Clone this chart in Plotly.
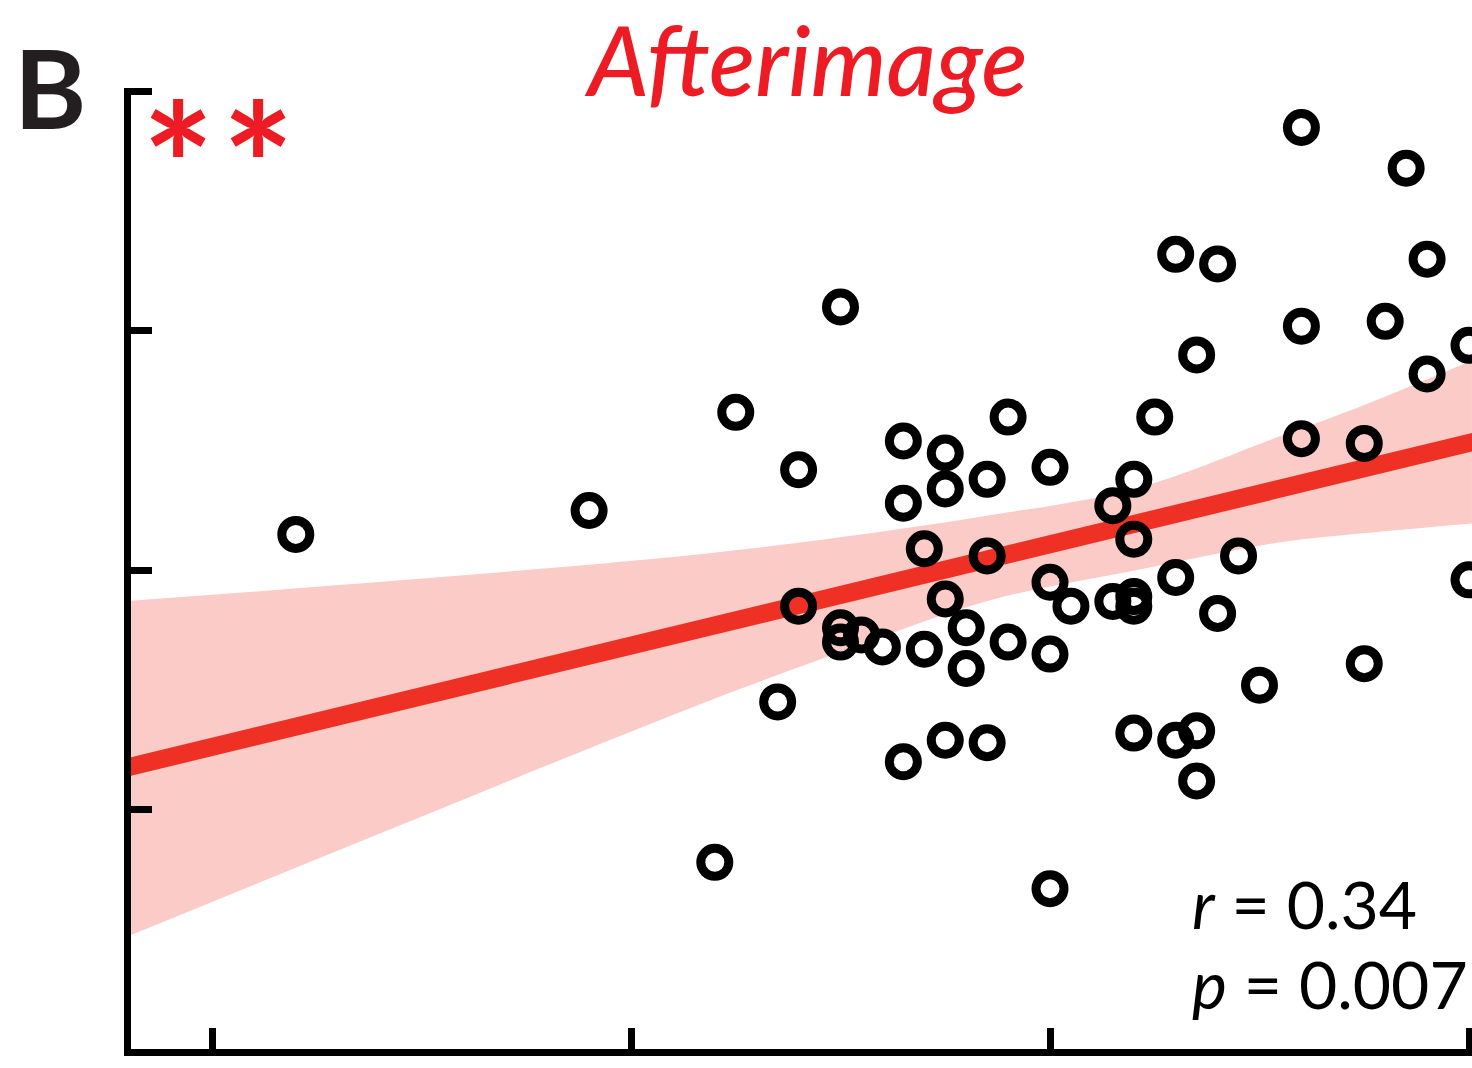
import plotly.graph_objects as go

# ---- data (arbitrary units: x ticks at 0..3, y ticks at 1..4) ----
x_vals = [0.20, 0.90, 1.20, 1.25, 1.35, 1.40, 1.40, 1.50, 1.50, 1.50,
          1.55, 1.60, 1.65, 1.65, 1.65, 1.70, 1.70, 1.75, 1.75, 1.75,
          1.75, 1.80, 1.80, 1.85, 1.85, 1.85, 1.90, 1.90, 2.00, 2.00,
          2.00, 2.00, 2.05, 2.15, 2.15, 2.20, 2.20, 2.20, 2.20, 2.20,
          2.25, 2.30, 2.30, 2.30, 2.35, 2.35, 2.35, 2.40, 2.40, 2.45,
          2.50, 2.60, 2.60, 2.60, 2.75, 2.75, 2.80, 2.85, 2.90, 2.90,
          3.00, 3.00]
y_vals = [2.15, 2.25, 0.78, 2.66, 1.45, 2.42, 1.85, 3.10, 1.76, 1.70,
          1.73, 1.68, 2.54, 2.28, 1.20, 2.09, 1.67, 2.49, 2.34, 1.88,
          1.29, 1.76, 1.59, 2.38, 2.06, 1.28, 2.64, 1.70, 2.43, 1.95,
          1.65, 0.67, 1.85, 2.27, 1.87, 2.38, 2.13, 1.89, 1.85, 1.32,
          2.64, 3.32, 1.97, 1.29, 2.90, 1.33, 1.12, 3.28, 1.82, 2.06,
          1.52, 3.85, 3.02, 2.55, 2.53, 1.61, 3.04, 3.68, 3.30, 2.82,
          2.94, 1.96]

# regression line
fit_x = [-0.215, 3.05]
fit_y = [1.171, 2.553]

# confidence band
ci_x = [-0.193, 0.449, 1.141, 1.499, 1.857, 2.205, 2.549, 2.747, 3.007]
ci_upper = [1.873, 1.958, 2.063, 2.138, 2.230, 2.342, 2.560, 2.689, 2.877]
ci_lower = [0.476, 0.935, 1.424, 1.658, 1.875, 2.000, 2.117, 2.155, 2.196]

x_ticks = [0, 1, 2, 3]
y_ticks = [1, 2, 3, 4]

title_text = "<i>Afterimage</i>"
panel_label = "B"
star_text = "*"
r_text = "<i>r</i> = 0.34"
p_text = "<i>p</i> = 0.007"

RED = "#ED1C24"
LINE_RED = "#EE3124"
BAND = "#FBCBC7"

W, H = 1472, 1068
ML, MR, MT, MB = 131, 0, 88, 19
PW, PH = W - ML - MR, H - MT - MB


def px(x):
    return (x - ML) / PW


def py(y):
    return (H - MB - y) / PH


fig = go.Figure()
fig.add_trace(go.Scatter(x=ci_x, y=ci_lower, mode="lines", line=dict(width=0, color=BAND, shape="spline"),
                         hoverinfo="skip", showlegend=False))
fig.add_trace(go.Scatter(x=ci_x, y=ci_upper, mode="lines", line=dict(width=0, color=BAND, shape="spline"),
                         fill="tonexty", fillcolor=BAND, hoverinfo="skip", showlegend=False))
fig.add_trace(go.Scatter(x=fit_x, y=fit_y, mode="lines", line=dict(width=18, color=LINE_RED),
                         hoverinfo="skip", showlegend=False))
fig.add_trace(go.Scatter(x=x_vals, y=y_vals, mode="markers",
                         marker=dict(symbol="circle-open", size=28, color="black",
                                     line=dict(width=9, color="black")),
                         showlegend=False))

axis_common = dict(showline=True, linewidth=7, linecolor="black", ticks="inside", ticklen=21,
                   tickwidth=7, tickcolor="black", showticklabels=False, showgrid=False,
                   zeroline=False, fixedrange=True)
fig.update_xaxes(range=[(131 - 212) / 419, (1472 - 212) / 419], tickvals=x_ticks, **axis_common)
fig.update_yaxes(range=[0, 4.015], tickvals=y_ticks, **axis_common)

annotations = [
    dict(text=panel_label, x=px(50), y=py(86.5), font=dict(family="Lato", size=110, color="#231F20", weight="bold")),
    dict(text=title_text, x=px(806), y=py(58.6), font=dict(family="Lato", size=96, color=RED, weight=500)),
    dict(text=star_text, x=px(178), y=py(163), font=dict(family="Lato", size=170, color=RED, weight="bold")),
    dict(text=star_text, x=px(258), y=py(163), font=dict(family="Lato", size=170, color=RED, weight="bold")),
    dict(text=r_text, x=px(1190), y=py(904), xanchor="left", font=dict(family="Lato", size=66, color="black")),
    dict(text=p_text, x=px(1190), y=py(983), xanchor="left", font=dict(family="Lato", size=66, color="black")),
]
for a in annotations:
    a.setdefault("xanchor", "center")
    a.update(xref="paper", yref="paper", yanchor="middle", showarrow=False)
fig.update_layout(annotations=annotations)

fig.update_layout(width=W, height=H, margin=dict(l=ML, r=MR, t=MT, b=MB),
                  paper_bgcolor="white", plot_bgcolor="white", showlegend=False)

fig.write_html("out.html", config={"displayModeBar": False},
               post_script="document.body.style.margin='0';document.body.style.overflow='hidden';")
